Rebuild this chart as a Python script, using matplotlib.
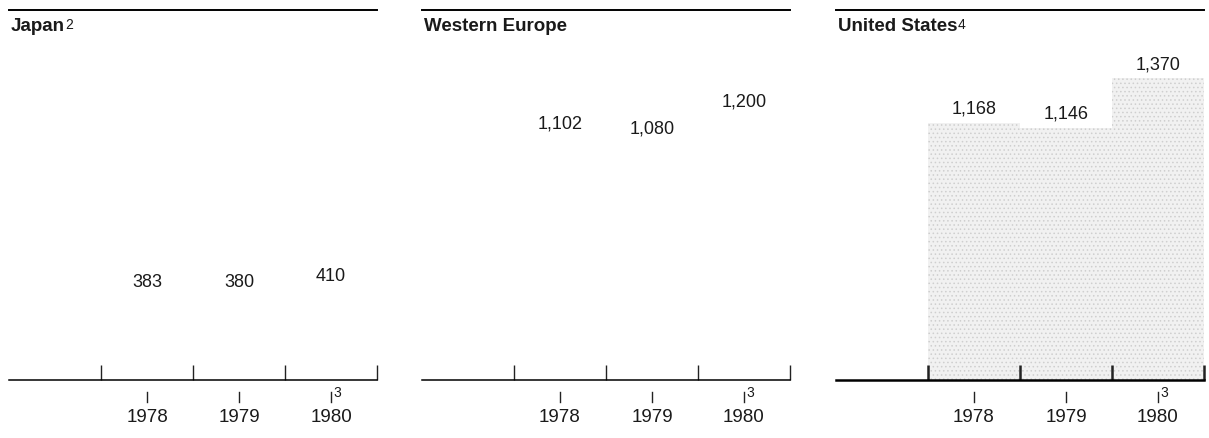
import matplotlib
matplotlib.use('Agg')
import matplotlib.pyplot as plt
import matplotlib.transforms as mtransforms

plt.rcParams['font.family'] = ['Liberation Sans', 'DejaVu Sans']
plt.rcParams['hatch.linewidth'] = 0.6

years = ['1978', '1979', '1980']
regions = ['Japan', 'Western Europe', 'United States']
title_notes = ['2', '', '4']
japan = [383, 380, 410]
western_europe = [1102, 1080, 1200]
united_states = [1168, 1146, 1370]
values = [japan, western_europe, united_states]
labels = [['383', '380', '410'], ['1,102', '1,080', '1,200'], ['1,168', '1,146', '1,370']]
bar_colors = ['white', 'white', '#f1f1f1']

fig = plt.figure(figsize=(12.09, 4.38), dpi=100)
W, H = 1209, 438
lefts = [9, 422, 836]
ax_w = 368
base_y = 380
top_y = 10
h = base_y - top_y

for k, left in enumerate(lefts):
    ax = fig.add_axes([left / W, (H - base_y) / H, ax_w / W, h / H])
    x = range(len(years))
    bars = ax.bar(x, values[k], width=1.0, color=bar_colors[k], edgecolor='none', zorder=1)
    if k == 2:
        for b in bars:
            b.set_hatch('....')
            b.set_edgecolor('#cfcfcf')
            b.set_linewidth(0)
    ax.set_xlim(-1.5, 2.5)
    ax.set_ylim(0, 1680)

    for s in ['left', 'right']:
        ax.spines[s].set_visible(False)
    ax.spines['top'].set_linewidth(1.4)
    ax.spines['bottom'].set_linewidth(1.8 if k == 2 else 1.1)
    ax.set_yticks([])
    ax.set_xticks([-0.5, 0.5, 1.5, 2.5])
    ax.set_xticklabels([])
    ax.tick_params(axis='x', direction='in', length=10.5,
                   width=1.8 if k == 2 else 1.0, color='#222222')

    # title with footnote
    t = ax.text(0.005, 1 - 8 / h, regions[k], transform=ax.transAxes, ha='left', va='top',
                fontsize=13.5, fontweight='bold', color='#1a1a1a')
    if title_notes[k]:
        fig.canvas.draw()
        bb = t.get_window_extent()
        inv = ax.transAxes.inverted()
        x1, y1 = inv.transform((bb.x1, bb.y1))
        ax.text(x1 + 0.001, y1, title_notes[k], transform=ax.transAxes,
                ha='left', va='top', fontsize=10, color='#1a1a1a')

    # value labels
    for i, v in enumerate(values[k]):
        ax.annotate(labels[k][i], xy=(i, v), xytext=(0, 3.5), textcoords='offset points',
                    ha='center', va='bottom', fontsize=13, color='#1a1a1a')

    # small centre ticks and year labels below the baseline
    trans = mtransforms.blended_transform_factory(ax.transData, ax.transAxes)
    for i, yr in enumerate(years):
        ax.plot([i, i], [-12 / h, -22 / h], transform=trans, color='#222222',
                lw=1.0, clip_on=False)
        ax.text(i, -38 / h, yr, transform=trans, ha='center', va='center',
                fontsize=13.5, color='#1a1a1a')
    ax.text(2 + 0.03, -13 / h, '3', transform=trans, ha='left', va='center',
            fontsize=10, color='#1a1a1a')

fig.savefig('out.png', dpi=100)
